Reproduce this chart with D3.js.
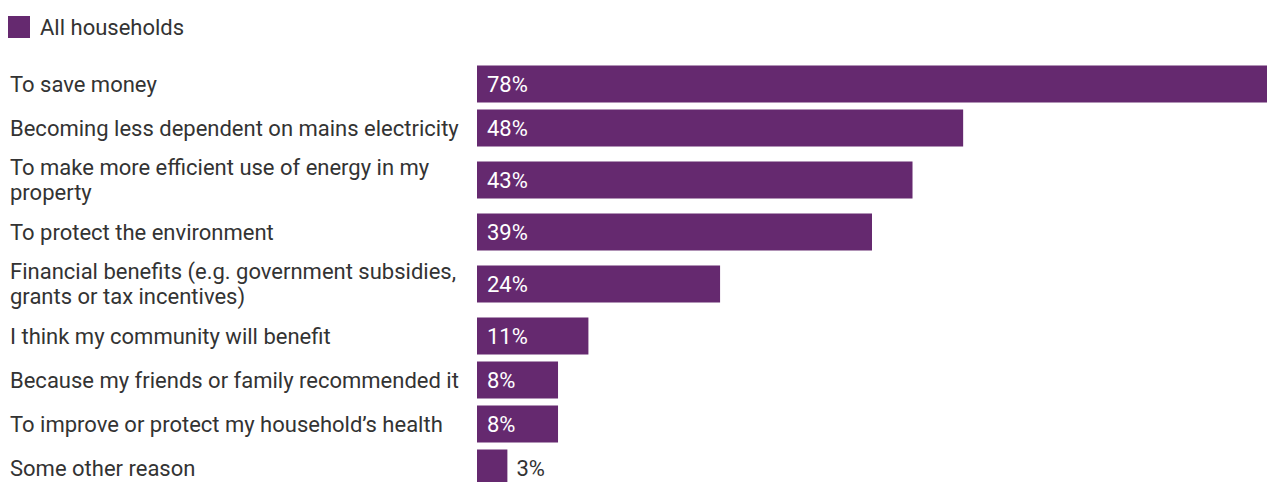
<!DOCTYPE html>
<html>
<head>
<meta charset="utf-8">
<script src="https://cdn.jsdelivr.net/npm/d3@7"></script>
<style>
  html, body { margin: 0; padding: 0; background: #fff; }
  svg { display: block; font-family: Roboto, "Noto Sans", sans-serif; }
</style>
</head>
<body>
<svg id="chart" width="1267" height="482"></svg>
<script>
// Reasons given for the change, in display order
const categories = [
  "To save money",
  "Becoming less dependent on mains electricity",
  "To make more efficient use of energy in my property",
  "To protect the environment",
  "Financial benefits (e.g. government subsidies, grants or tax incentives)",
  "I think my community will benefit",
  "Because my friends or family recommended it",
  "To improve or protect my household\u2019s health",
  "Some other reason"
];
// Share of all households, percent
const values = [78, 48, 43, 39, 24, 11, 8, 8, 3];
const seriesName = "All households";

const W = 1267, H = 482;
const barColor = "#65296f";
const textColor = "#333333";
const fontSize = 22;
const labelX = 10;
const labelMaxWidth = 466;
const barLeft = 477;
const barHeight = 37;
const lineHeight = 25;
const rowSingle = 44;
const rowDouble = 60;
const firstRowTop = 62;

const svg = d3.select("#chart");

// Legend
const legend = svg.append("g").attr("transform", "translate(8,16)");
legend.append("rect").attr("width", 22).attr("height", 22).attr("fill", barColor);
legend.append("text")
  .attr("x", 32).attr("y", 11).attr("dy", "0.35em")
  .attr("font-size", fontSize).attr("fill", textColor)
  .text(seriesName);

// Wrap a category label into lines that fit the label column
const measurer = svg.append("text").attr("font-size", fontSize).attr("visibility", "hidden");
function wrap(str) {
  const words = str.split(" ");
  const lines = [];
  let cur = "";
  for (const w of words) {
    const test = cur ? cur + " " + w : w;
    measurer.text(test);
    if (cur && measurer.node().getComputedTextLength() > labelMaxWidth) {
      lines.push(cur);
      cur = w;
    } else {
      cur = test;
    }
  }
  if (cur) lines.push(cur);
  return lines;
}
const wrapped = categories.map(wrap);
measurer.remove();

// Row centres depend on how many lines each label needs
const centers = [];
let rowTop = firstRowTop;
wrapped.forEach(lines => {
  const h = lines.length > 1 ? rowDouble : rowSingle;
  centers.push(rowTop + h / 2);
  rowTop += h;
});
const y = d3.scaleOrdinal().domain(categories).range(centers);
const x = d3.scaleLinear().domain([0, d3.max(values)]).range([barLeft, W]);

const data = categories.map((c, i) => ({ cat: c, value: values[i], lines: wrapped[i] }));

// Category labels
const labels = svg.append("g");
data.forEach(d => {
  const t = labels.append("text")
    .attr("font-size", fontSize).attr("fill", textColor);
  const n = d.lines.length;
  d.lines.forEach((line, j) => {
    t.append("tspan")
      .attr("x", labelX)
      .attr("y", y(d.cat) + (j - (n - 1) / 2) * lineHeight)
      .attr("dy", "0.35em")
      .text(line);
  });
});

// Bars
svg.append("g").selectAll("rect").data(data).join("rect")
  .attr("x", x(0))
  .attr("y", d => y(d.cat) - barHeight / 2)
  .attr("width", d => x(d.value) - x(0))
  .attr("height", barHeight)
  .attr("fill", barColor);

// Value labels: inside the bar when it is wide enough, otherwise just after it
svg.append("g").selectAll("text").data(data).join("text")
  .attr("font-size", fontSize)
  .attr("dy", "0.35em")
  .attr("y", d => y(d.cat))
  .each(function(d) {
    const inside = x(d.value) - x(0) > 50;
    d3.select(this)
      .attr("x", inside ? x(0) + 10 : x(d.value) + 9)
      .attr("fill", inside ? "#ffffff" : textColor)
      .text(d.value + "%");
  });
</script>
</body>
</html>
